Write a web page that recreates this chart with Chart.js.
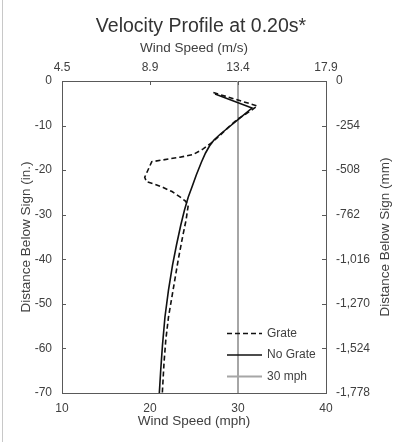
<!DOCTYPE html>
<html><head><meta charset="utf-8">
<script src="https://cdn.jsdelivr.net/npm/chart.js@4/dist/chart.umd.min.js"></script>
<style>
html,body{margin:0;padding:0;background:#fff;}
#wrap{position:relative;width:393px;height:442px;overflow:hidden;}
#edge{position:absolute;left:2px;top:0;width:1px;height:442px;background:#c8c8c8;}
canvas{position:absolute;left:0;top:0;}
</style></head><body>
<div id="wrap"><canvas id="c" width="393" height="442"></canvas><div id="edge"></div></div>
<script>
// ---- data ----
const chartTitle = 'Velocity Profile at 0.20s*';
const seriesNames = ['Grate', 'No Grate', '30 mph'];

const grateSpeedMph = [27.2, 32.2, 31.2, 30.0, 28.9, 27.9, 26.9, 26.0, 24.9, 23.4, 22.6, 21.5, 20.2, 19.4, 19.6, 20.6, 21.5, 22.5, 23.4, 24.0, 24.35, 24.1, 23.7, 23.2, 22.7, 22.1, 21.8, 21.6, 21.4];
const grateDepthIn  = [-2.6, -5.6, -7.0, -8.5, -10.4, -12.3, -14.0, -15.3, -16.5, -17.1, -17.35, -17.7, -18.1, -21.6, -22.6, -23.2, -23.9, -24.8, -26.0, -26.9, -27.8, -31.2, -35.0, -40.2, -46.0, -53.0, -58.0, -63.0, -70.0];

const noGrateSpeedMph = [27.39, 31.59, 30.0, 28.98, 28.01, 27.27, 26.76, 26.31, 25.85, 25.26, 24.77, 24.35, 23.92, 23.5, 23.01, 22.56, 22.1, 21.7, 21.42, 21.22, 21.06];
const noGrateDepthIn  = [-2.92, -6.06, -8.64, -10.32, -11.89, -13.24, -14.58, -16.15, -18.17, -21.09, -23.78, -26.03, -28.94, -32.3, -36.8, -41.3, -46.9, -52.95, -59.2, -64.8, -70.0];

const refSpeedMph = [30, 30];
const refDepthIn  = [0, -70];

const bottomTicksMph = [10, 20, 30, 40];
const topTicksMs = [4.4704, 8.9408, 13.4112, 17.8816];
const topTickLabels = ['4.5', '8.9', '13.4', '17.9'];
const leftTicksIn = [0, -10, -20, -30, -40, -50, -60, -70];
const rightTicksMm = [0, -254, -508, -762, -1016, -1270, -1524, -1778];
const rightTickLabels = ['0', '-254', '-508', '-762', '-1,016', '-1,270', '-1,524', '-1,778'];

const axisTitles = {
  bottom: 'Wind Speed (mph)',
  top: 'Wind Speed (m/s)',
  left: 'Distance Below Sign (in.)',
  right: 'Distance Below Sign (mm)'
};

// ---- helpers ----
const zip = (xs, ys) => xs.map((x, i) => ({x: x, y: ys[i]}));
const FONT = '"Liberation Sans", Arial, sans-serif';
const TXT = '#404040';
const AX = '#595959';

const fixedTicks = arr => scale => { scale.ticks = arr.map(v => ({value: v})); };

const decor = {
  id: 'decor',
  afterDraw(chart) {
    const ctx = chart.ctx, a = chart.chartArea;
    ctx.save();
    // inward tick marks
    ctx.strokeStyle = AX; ctx.lineWidth = 1;
    const L = 4;
    const sy = chart.scales.y, sy2 = chart.scales.y2, sx2 = chart.scales.x2;
    sy.ticks.forEach(t => { const p = Math.round(sy.getPixelForValue(t.value)) + 0.5;
      ctx.beginPath(); ctx.moveTo(a.left, p); ctx.lineTo(a.left + L, p); ctx.stroke(); });
    sy2.ticks.forEach(t => { const p = Math.round(sy2.getPixelForValue(t.value)) + 0.5;
      ctx.beginPath(); ctx.moveTo(a.right, p); ctx.lineTo(a.right - L, p); ctx.stroke(); });
    sx2.ticks.forEach(t => { const p = Math.round(sx2.getPixelForValue(t.value)) + 0.5;
      ctx.beginPath(); ctx.moveTo(p, a.top); ctx.lineTo(p, a.top + L); ctx.stroke(); });
    // main title
    ctx.fillStyle = '#333';
    ctx.font = '19.5px ' + FONT;
    ctx.textAlign = 'center'; ctx.textBaseline = 'middle';
    ctx.fillText(chartTitle, 201, 26.5);
    // right axis title (reads bottom to top)
    ctx.font = '13.5px ' + FONT;
    ctx.fillStyle = TXT;
    ctx.save();
    ctx.translate(385, (a.top + a.bottom) / 2);
    ctx.rotate(-Math.PI / 2);
    ctx.fillText(axisTitles.right, 0, 0);
    ctx.restore();
    // legend
    const lx0 = 227, lx1 = 262, tx = 267, ly0 = 333.5, dy = 21.5;
    ctx.font = '12px ' + FONT;
    ctx.textAlign = 'left';
    chart.data.datasets.forEach((ds, i) => {
      const y = ly0 + i * dy;
      ctx.strokeStyle = ds.borderColor; ctx.lineWidth = ds.borderWidth;
      ctx.setLineDash(ds.borderDash || []);
      ctx.beginPath(); ctx.moveTo(lx0, y); ctx.lineTo(lx1, y); ctx.stroke();
      ctx.setLineDash([]);
      ctx.fillStyle = TXT;
      ctx.fillText(ds.label, tx, y);
    });
    ctx.restore();
  }
};

new Chart(document.getElementById('c'), {
  type: 'scatter',
  data: {
    datasets: [
      { label: seriesNames[0], data: zip(grateSpeedMph, grateDepthIn), showLine: true,
        borderColor: '#111', borderWidth: 1.6, borderDash: [5, 3], pointRadius: 0, tension: 0, xAxisID: 'x', yAxisID: 'y' },
      { label: seriesNames[1], data: zip(noGrateSpeedMph, noGrateDepthIn), showLine: true,
        borderColor: '#111', borderWidth: 1.6, pointRadius: 0, tension: 0, xAxisID: 'x', yAxisID: 'y' },
      { label: seriesNames[2], data: zip(refSpeedMph, refDepthIn), showLine: true,
        borderColor: '#a6a6a6', borderWidth: 2, pointRadius: 0, tension: 0, xAxisID: 'x', yAxisID: 'y' }
    ]
  },
  options: {
    responsive: false,
    animation: false,
    devicePixelRatio: 1,
    layout: { padding: 0 },
    plugins: { legend: { display: false }, tooltip: { enabled: false }, title: { display: false } },
    scales: {
      x: {
        type: 'linear', position: 'bottom', min: 10, max: 40,
        afterBuildTicks: fixedTicks(bottomTicksMph),
        afterFit: s => { s.height = 49; },
        grid: { drawOnChartArea: false, drawTicks: false },
        border: { display: true, color: AX, width: 1 },
        ticks: { padding: 8.5, color: TXT, font: { family: FONT, size: 12 } },
        title: { display: true, text: axisTitles.bottom, color: TXT, font: { family: FONT, size: 13.5 }, padding: { top: 0, bottom: 12.5 } }
      },
      x2: {
        type: 'linear', position: 'top', min: topTicksMs[0], max: topTicksMs[3],
        afterBuildTicks: fixedTicks(topTicksMs),
        afterFit: s => { s.height = 81; },
        grid: { drawOnChartArea: false, drawTicks: false },
        border: { display: true, color: AX, width: 1 },
        ticks: { padding: 6.5, color: TXT, font: { family: FONT, size: 12 }, callback: (v, i) => topTickLabels[i] },
        title: { display: true, text: axisTitles.top, color: TXT, font: { family: FONT, size: 13.5 }, padding: { top: 40.5, bottom: 0 } }
      },
      y: {
        type: 'linear', position: 'left', min: -70, max: 0,
        afterBuildTicks: fixedTicks(leftTicksIn),
        afterFit: s => { s.width = 62; },
        grid: { drawOnChartArea: false, drawTicks: false },
        border: { display: true, color: AX, width: 1 },
        ticks: { padding: 10, color: TXT, font: { family: FONT, size: 12 }, callback: v => String(v) },
        title: { display: true, text: axisTitles.left, color: TXT, font: { family: FONT, size: 13.5 }, padding: { top: 18.5, bottom: 0 } }
      },
      y2: {
        type: 'linear', position: 'right', min: rightTicksMm[7], max: rightTicksMm[0],
        afterBuildTicks: fixedTicks(rightTicksMm),
        afterFit: s => { s.width = 67; },
        grid: { drawOnChartArea: false, drawTicks: false },
        border: { display: true, color: AX, width: 1 },
        ticks: { padding: 10, color: TXT, font: { family: FONT, size: 12 }, callback: (v, i) => rightTickLabels[i] },
        title: { display: false }
      }
    }
  },
  plugins: [decor]
});
</script>
</body></html>
